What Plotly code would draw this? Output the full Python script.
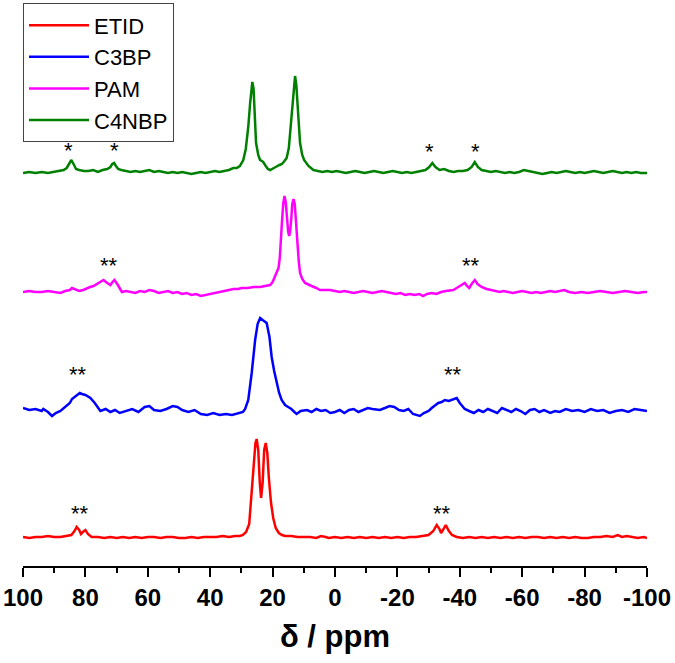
import plotly.graph_objects as go

# ---------------- data ----------------
names = ["ETID", "C3BP", "PAM", "C4NBP"]
colors = ["#FF0000", "#0000FF", "#FF00FF", "#008000"]
offsets = [0, 129, 246, 365]

etid_ppm = [100, 98, 96, 94, 92, 90, 88, 86, 84.5, 83.5, 82.8, 82, 81.4, 80.8, 80, 79.2, 78, 76, 74, 72,
            70, 68, 66, 64, 62, 60, 58, 56, 54, 52, 50, 48, 46, 44, 42, 40, 38, 36, 34, 32,
            30.5, 29.5, 28.5, 27.5, 26.7, 26, 25.5, 25.1, 24.6, 24.1, 23.7, 23.2, 22.7, 22.2, 21.7, 21.2,
            20.5, 19.8, 19, 18, 17, 16, 14, 12, 10, 8, 6, 4.5, 3, 2, 0, -2, -4, -6, -8, -10, -12, -14,
            -16, -18, -20, -22, -24, -26, -28, -30, -31.5, -32.6, -33.5, -34, -34.6, -35.5, -36.5, -37.5,
            -39, -41, -43, -45, -47, -49, -51, -53, -55, -57, -59, -61, -63, -65, -67, -69, -71, -73,
            -75, -77, -79, -81, -83, -85, -87, -89, -90.6, -92, -93.5, -95, -97, -99, -100]
etid_int = [1, 0, 1, 1, 2, 1, 1, 2, 3, 7, 11, 8, 4, 6, 8, 4, 1, 1, 0, 1,
            0, 1, 0, 1, 0, 1, 1, 0, 1, 1, 0, 0, 1, 0, 1, 1, 1, 2, 1, 2,
            2, 3, 6, 14, 45, 80, 95, 99, 88, 55, 40, 55, 88, 95, 85, 60,
            35, 20, 10, 5, 3, 2, 2, 1, 1, 1, 0, 2, 1, 0, 1, 0, 1, 0, 1, 0, 1, 0,
            1, 0, 1, 0, 1, 1, 2, 3, 7, 13, 9, 5, 8, 13, 7, 3,
            1, 0, 1, 0, 1, 0, 1, 0, 1, 0, 1, 0, 1, 1, 0, 1, 0, 1,
            0, 1, 0, 0, 1, 1, 2, 1, 3, 1, 2, 1, 0, 1, 0]

c3bp_ppm = [100, 98, 96, 94, 93.5, 92, 90.7, 89.5, 88, 86.5, 85, 84.3, 83, 81.8, 81.1, 80, 78.4, 77, 75.2, 73.5,
            72, 70.5, 69, 67, 65, 63, 61, 59.5, 58, 56, 54, 52, 50.5, 49, 47, 45, 43, 41, 39, 37,
            35, 33, 31, 29.5, 28.8, 27.8, 26.7, 25.6, 24.8, 24, 23.2, 22.5, 21.9, 21, 20.3, 19.5, 18.7, 17.9,
            17.1, 16, 15, 14, 13, 12.3, 11, 9, 7.5, 6, 4.5, 3, 1.5, 0, -1.5, -3, -4.5, -6, -7.5, -9,
            -10.5, -12, -14.4, -16, -17.5, -19, -20.5, -22, -23.5, -25, -27.2, -28.5, -30, -31, -32, -33.1,
            -34.2, -35.2, -36.5, -38, -39, -40, -41.6, -43, -44.5, -46, -47.5, -49, -50.5, -52, -53.5, -55,
            -56.5, -58, -59.5, -61, -62.5, -64, -65.5, -67, -69, -70.5, -72, -74, -76, -78, -80, -82,
            -84, -86, -88, -90, -92, -94, -96, -98, -100]
c3bp_int = [1, -1, 0, -2, 0, -3, -7, -4, -2, 2, 6, 10, 13, 16, 15, 14, 11, 6, -2, 0,
            -3, -1, -4, -2, 0, -3, 2, 3, -1, -2, 0, 3, 2, -1, -3, -1, -5, -6, -4, -6,
            -5, -6, -4, -3, 0, 9, 36, 69, 85, 91, 89, 87, 86, 72, 52, 38, 26, 16,
            9, 4, 2, 0, -3, -5, -2, -1, -3, 0, -2, -1, -4, -3, -1, -4, -1, 0, -3, -1,
            1, 0, -1, 1, 3, 2, -1, -2, 0, -5, -7, -4, -2, 1, 3, 6,
            7, 9, 8, 10, 11, 6, 0, -2, -4, -1, -3, 0, -2, -4, 1, -1,
            -3, 0, -2, -5, -1, 0, -3, -1, -4, -2, -3, 0, -2, -1, -3, 0,
            -2, -1, -4, -2, -1, -3, 0, -1, -2]

pam_ppm = [100, 98, 96, 94, 92, 90, 88, 86.5, 85, 84.3, 83, 82, 80.7, 79.5, 78.5, 77.4, 76.3, 75.3, 74.2, 73,
           72, 71.3, 70.7, 69.8, 69, 68.3, 67, 65.5, 64, 62.5, 61, 59.5, 58, 56.5, 55, 53.5, 52, 50.5, 49, 47.5,
           46, 44.5, 43, 41.5, 40, 38.5, 37, 35.5, 34, 32.5, 31, 30, 28, 26, 24, 22, 20.8, 20, 19.2, 18.6,
           18.1, 17.7, 17.4, 17, 16.6, 16.2, 15.8, 15.4, 15, 14.7, 14.4, 14, 13.7, 13.3, 12.9, 12.5, 12.1, 11.6, 11.2, 10.5,
           9.6, 8.5, 7.5, 6, 4.8, 3, 1.6, 0, -1.5, -3, -4.5, -6, -7.5, -9, -10.5, -12, -13.5, -15, -16.5, -18,
           -19.5, -21, -22.5, -24, -25.5, -27, -28.2, -29.5, -31, -32.5, -34, -35.5, -37, -37.9, -39, -40, -41, -41.6, -42.3, -43,
           -43.8, -44.8, -45.7, -47, -48.6, -50, -51.5, -52.8, -54, -55.5, -57, -58.5, -60, -61.5, -63, -64.5, -66, -67.5, -69, -70.5,
           -72, -73.5, -75, -77, -79, -81, -83, -85, -87, -89, -91, -93, -95, -97, -99, -100]
pam_int = [0, 1, 0, 0, 1, 0, -1, 1, 2, 4, 2, 1, 2, 4, 5, 6, 8, 10, 12, 9,
           7, 10, 12, 8, 3, 0, 1, 0, -1, 1, 0, 2, 1, -1, 0, 1, -1, 0, -2, -1,
           -3, -2, -4, -3, -2, -1, 0, 1, 2, 3, 3, 4, 4, 5, 5, 6, 7, 10, 16, 20,
           24, 34, 46, 70, 88, 96, 90, 72, 60, 56, 60, 74, 88, 93, 88, 70, 46, 30, 19, 13,
           9, 7, 6, 4, 2, 2, 2, 1, 0, 1, 0, -1, 0, 1, 0, -1, 0, 1, 0, -1,
           -2, -1, -3, -2, -3, -2, -4, -2, -1, -2, 0, 1, 2, 2, 4, 6, 8, 9, 6, 4,
           8, 12, 8, 5, 3, 2, 1, 0, 1, 0, -1, 0, 1, 0, -1, 0, -1, 0, 1, 0,
           1, 2, 0, -1, 0, -1, 0, 1, 0, -1, 0, 1, 0, -1, 0, 0]

c4nbp_ppm = [100, 98, 96, 94, 92, 90, 88.5, 87, 86, 85.2, 84.5, 83.8, 83, 82, 80.5, 79, 77.5, 76, 74.5, 73,
             72, 71.4, 70.8, 70.2, 69.5, 68.5, 67, 65.5, 64, 62.5, 61, 59.5, 58, 56.5, 55, 53.5, 52, 50.5, 49, 47.5,
             46, 44.5, 43, 41.5, 40, 38.5, 37, 35.5, 34, 32.6, 31.5, 30.5, 29.4, 28.6, 27.8, 27.2, 26.8, 26.5, 26.1, 25.7,
             25.3, 24.6, 24, 23.4, 23, 22.2, 21.5, 20.8, 20, 19, 17.8, 17, 16.2, 15.5, 14.8, 14.2, 13.7, 13.3, 12.8, 12.4,
             12.1, 11.6, 11.2, 10.5, 9.9, 8.5, 6.9, 5.5, 4, 2.5, 1, -0.5, -2, -3.5, -5, -6.5, -8, -9.5, -11, -12.5,
             -14, -15.5, -17, -18.5, -20, -21.5, -23, -24.5, -26, -27.5, -29, -30.2, -31.2, -32.2, -33.5, -35, -36.5, -38, -39.5, -41,
             -42.5, -43.8, -44.8, -45.8, -47, -48.5, -50, -51.5, -53, -54.5, -56, -57.5, -59, -60.5, -62, -63.5, -65, -66.5, -68, -69.5,
             -71, -72.5, -74, -75.5, -77, -78.5, -80, -81.5, -83, -84.5, -86, -87.5, -89, -90.5, -92, -93.5, -95, -96.5, -98, -100]
c4nbp_int = [0, 1, 0, 1, 0, 1, 2, 3, 5, 9, 13, 9, 4, 3, 2, 2, 3, 1, 3, 4,
             6, 9, 10, 7, 4, 3, 2, 1, 2, 1, 2, 3, 1, 2, 1, 0, 1, 0, 1, 0,
             -1, 0, 1, 0, 1, 2, 1, 2, 3, 5, 5, 7, 13, 24, 46, 70, 85, 91, 84, 55,
             30, 18, 13, 12, 11, 7, 4, 3, 4, 6, 8, 9, 12, 15, 25, 46, 68, 85, 97, 88,
             70, 46, 30, 18, 13, 7, 3, 2, 1, 2, 1, 2, 1, 0, 1, 2, 1, 0, 1, 2,
             1, 0, 1, 2, 1, 0, 1, 0, 1, 2, 3, 6, 10, 6, 3, 4, 2, 1, 2, 2,
             3, 6, 11, 6, 3, 2, 1, 2, 1, 0, 1, 0, 1, 3, 2, 1, 0, -1, 0, 1,
             0, 1, 2, 1, 0, 1, 0, 1, 2, 1, 0, 1, 2, 1, 0, 1, 0, 1, 0, 0]

spectra_ppm = [etid_ppm, c3bp_ppm, pam_ppm, c4nbp_ppm]
spectra_int = [etid_int, c3bp_int, pam_int, c4nbp_int]

# asterisk labels: (trace index, ppm, height above that trace's baseline, text)
star_trace = [0, 0, 1, 1, 2, 2, 3, 3, 3, 3]
star_ppm = [81.7, -34.2, 82.5, -37.9, 72.3, -43.5, 85.5, 70.7, -30.4, -45.1]
star_height = [27, 27, 37, 37, 29, 29, 25, 25, 24, 24]
star_text = ["**", "**", "**", "**", "**", "**", "*", "*", "*", "*"]

x_tick_vals = [100, 80, 60, 40, 20, 0, -20, -40, -60, -80, -100]
x_tick_text = ["100", "80", "60", "40", "20", "0", "-20", "-40", "-60", "-80", "-100"]
x_title = "δ / ppm"

# ---------------- figure ----------------
fig = go.Figure()
for i in range(len(names)):
    fig.add_trace(go.Scatter(
        x=spectra_ppm[i],
        y=[v + offsets[i] for v in spectra_int[i]],
        mode="lines",
        name=names[i],
        legendgroup=names[i],
        line=dict(color=colors[i], width=2.5),
    ))

for t, p, h, s in zip(star_trace, star_ppm, star_height, star_text):
    fig.add_annotation(x=p, y=h + offsets[t] - 2, text=s, showarrow=False,
                       font=dict(family="Liberation Sans, Arial", size=22, color="black"),
                       xanchor="center", yanchor="middle")

fig.update_layout(
    width=675, height=663,
    margin=dict(l=23, r=28, t=0, b=97, autoexpand=False),
    paper_bgcolor="white", plot_bgcolor="white",
    font=dict(family="Liberation Sans, Arial", color="black"),
    showlegend=True,
    legend=dict(
        x=0, y=0.994, xanchor="left", yanchor="top",
        bordercolor="#444444", borderwidth=1, bgcolor="white",
        font=dict(family="Liberation Sans, Arial", size=22, color="black"),
        itemwidth=60, tracegroupgap=0, traceorder="normal",
    ),
    xaxis=dict(
        range=[100, -100], autorange=False, automargin=False,
        tickmode="array", tickvals=x_tick_vals, ticktext=x_tick_text,
        ticks="outside", ticklen=9, tickwidth=2, tickcolor="black",
        minor=dict(dtick=10, ticks="outside", ticklen=5, tickwidth=2, tickcolor="black"),
        showline=True, linewidth=2, linecolor="black",
        showgrid=False, zeroline=False,
        tickfont=dict(family="Liberation Sans, Arial", size=24, color="black", weight="bold"),
        title=dict(text=x_title, standoff=16,
                   font=dict(family="Liberation Sans, Arial", size=31, color="black", weight="bold")),
    ),
    yaxis=dict(range=[-28, 538], autorange=False, visible=False, showgrid=False, zeroline=False),
)

fig.write_html("out.html", config={"displayModeBar": False},
               post_script="document.body.style.margin='0';document.body.style.padding='0';")
